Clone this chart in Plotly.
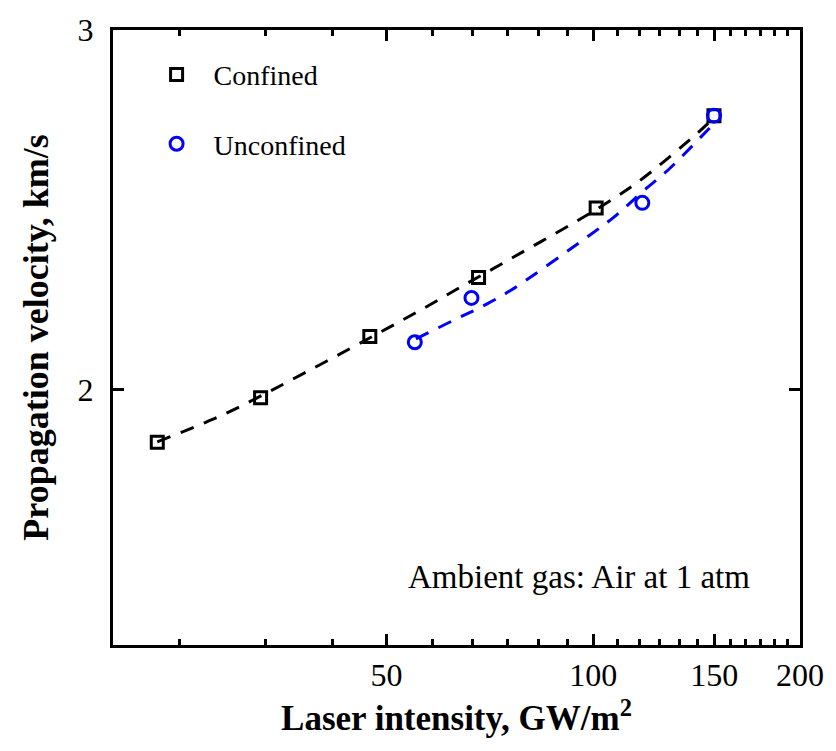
import plotly.graph_objects as go

# ---- data ----
confined_x = [23.2, 32.8, 47.3, 68.1, 101.0, 149.9]
confined_y = [1.885, 1.982, 2.124, 2.270, 2.455, 2.724]

unconfined_x = [55.0, 66.5, 117.9, 149.9]
unconfined_y = [2.110, 2.218, 2.469, 2.724]

confined_fit_x = [23.2, 26.8, 30.2, 55.0, 63.9, 76.5, 95.5, 106.9, 117.9, 141.7, 149.9]
confined_fit_y = [1.886, 1.923, 1.958, 2.180, 2.244, 2.322, 2.423, 2.480, 2.537, 2.670, 2.718]

unconfined_fit_x = [55.2, 63.0, 69.5, 76.0, 98.7, 108.1, 117.9, 129.0, 147.5, 149.9]
unconfined_fit_y = [2.118, 2.165, 2.200, 2.238, 2.380, 2.435, 2.500, 2.565, 2.685, 2.700]

x_tickvals = [50, 100, 150, 200]
x_ticktext = ["50", "100", "150", "200"]
x_minor_ticks = [25, 33.33, 41.67, 58.33, 66.67, 75, 83.33, 91.67,
                 108.33, 116.67, 125, 133.33, 141.67, 158.33, 166.67,
                 175, 183.33, 191.67]
y_tickvals = [2, 3]
y_ticktext = ["2", "3"]

FONT = "Liberation Serif, Times New Roman, serif"

fig = go.Figure()

fig.add_trace(go.Scatter(x=confined_fit_x, y=confined_fit_y, mode="lines",
                         line=dict(color="black", width=3, dash="14px,11px", shape="spline"),
                         showlegend=False, hoverinfo="skip"))
fig.add_trace(go.Scatter(x=unconfined_fit_x, y=unconfined_fit_y, mode="lines",
                         line=dict(color="#0000FF", width=3, dash="14px,11px", shape="spline"),
                         showlegend=False, hoverinfo="skip"))

fig.add_trace(go.Scatter(x=confined_x, y=confined_y, mode="markers", name="Confined",
                         legendgroup="a",
                         marker=dict(symbol="square-open", size=12, color="black",
                                     line=dict(width=3, color="black"))))
fig.add_trace(go.Scatter(x=unconfined_x, y=unconfined_y, mode="markers", name="Unconfined",
                         legendgroup="b",
                         marker=dict(symbol="circle-open", size=13, color="#0000FF",
                                     line=dict(width=3, color="#0000FF"))))

fig.update_layout(
    width=836, height=751,
    margin=dict(l=113, r=34, t=26, b=106),
    paper_bgcolor="white", plot_bgcolor="white",
    font=dict(family=FONT, color="black"),
    legend=dict(x=0.0387, y=0.968, xanchor="left", yanchor="top",
                bgcolor="rgba(0,0,0,0)", borderwidth=0, itemwidth=64,
                font=dict(family=FONT, size=28, color="black"),
                traceorder="grouped", tracegroupgap=30),
    annotations=[dict(text="Ambient gas: Air at 1 atm", xref="paper", yref="paper",
                      x=0.93, y=0.11, xanchor="right", yanchor="middle", showarrow=False,
                      font=dict(family=FONT, size=33, color="black"))],
)

fig.update_xaxes(
    type="log", range=[1.30103, 2.30103],
    tickmode="array", tickvals=x_tickvals, ticktext=x_ticktext,
    ticks="inside", ticklen=11, tickwidth=3, tickcolor="black",
    minor=dict(tickmode="array", tickvals=x_minor_ticks, ticks="inside",
               ticklen=6, tickwidth=3, tickcolor="black", showgrid=False),
    showline=True, linewidth=3, linecolor="black", mirror="ticks",
    showgrid=False, zeroline=False,
    tickfont=dict(family=FONT, size=32, color="black"),
    title=dict(text="<b>Laser intensity, GW/m<sup>2</sup></b>",
               font=dict(family=FONT, size=35, color="black"), standoff=14),
)
fig.update_yaxes(
    type="log", range=[0.176091, 0.477121],
    tickmode="array", tickvals=y_tickvals, ticktext=y_ticktext,
    ticks="inside", ticklen=11, tickwidth=3, tickcolor="black",
    showline=True, linewidth=3, linecolor="black", mirror="ticks",
    showgrid=False, zeroline=False,
    tickfont=dict(family=FONT, size=32, color="black"),
    ticklabelstandoff=10,
    title=dict(text="<b>Propagation velocity, km/s</b>",
               font=dict(family=FONT, size=36, color="black"), standoff=18),
)

fig.write_html("out.html")
